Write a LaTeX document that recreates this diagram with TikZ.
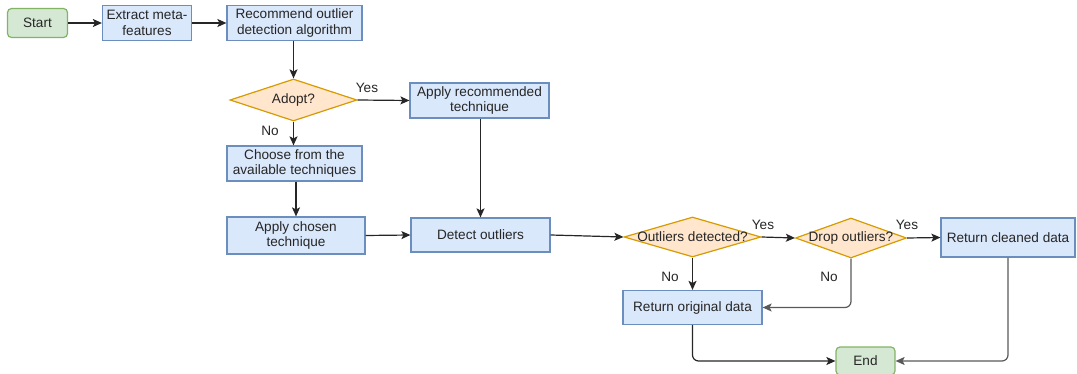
\documentclass[tikz,border=0pt]{standalone}
\usepackage{fontspec}
\setmainfont{Liberation Sans}
\usetikzlibrary{shapes.geometric,arrows.meta}
\definecolor{bfill}{HTML}{DAE8FC}
\definecolor{bdraw}{HTML}{6C8EBF}
\definecolor{gfill}{HTML}{D5E8D4}
\definecolor{gdraw}{HTML}{82B366}
\definecolor{ofill}{HTML}{FFE6CC}
\definecolor{odraw}{HTML}{D79B00}
\definecolor{txt}{HTML}{262626}
\tikzset{
  base/.style={inner sep=0pt, align=center, text=txt, font=\fontsize{13.6}{15.5}\selectfont, line width=1.2pt},
  proc/.style={base, rectangle, draw=bdraw, fill=bfill},
  term/.style={base, rectangle, rounded corners=4pt, draw=gdraw, fill=gfill},
  dec/.style={base, diamond, draw=odraw, fill=ofill},
  conn/.style={draw=black!85, line width=1.2pt, -{Stealth[length=9pt,width=8pt,inset=2pt]}, rounded corners=6pt},
  gconn/.style={conn, draw=black!65},
  lab/.style={text=txt, font=\fontsize{13.6}{15.5}\selectfont, inner sep=0pt}
}
\newcommand{\zw}[1]{\makebox[0pt]{#1}}
\begin{document}
\begin{tikzpicture}[x=1pt,y=-1pt]
\useasboundingbox (0,0) rectangle (1077,374);
\node[term, minimum width=60, minimum height=29] (start) at (37.5,23) {Start};
\node[proc, minimum width=89, minimum height=35] (extract) at (147,23) {Extract meta-\\features};
\node[proc, minimum width=135, minimum height=35] (recommend) at (294.5,23) {Recommend outlier\\detection algorithm};
\node[dec, minimum width=127, minimum height=42] (adopt) at (293.5,100) {\zw{Adopt?}};
\node[proc, minimum width=139, minimum height=35] (applyrec) at (479.5,100.5) {Apply recommended\\technique};
\node[proc, minimum width=135, minimum height=35] (choose) at (294.5,163.5) {Choose from the\\available techniques};
\node[proc, minimum width=138, minimum height=37] (applychosen) at (296,235.5) {Apply chosen\\technique};
\node[proc, minimum width=139, minimum height=34] (detect) at (480.5,235) {Detect outliers};
\node[dec, minimum width=137, minimum height=40] (outdet) at (692.5,237) {\zw{Outliers detected?}};
\node[dec, minimum width=111, minimum height=40] (drop) at (851,238) {\zw{Drop outliers?}};
\node[proc, minimum width=134, minimum height=39] (retclean) at (1008,237.5) {Return cleaned data};
\node[proc, minimum width=139, minimum height=34] (retorig) at (692.5,307.5) {Return original data};
\node[term, minimum width=59, minimum height=28] (end) at (865.5,361) {End};

\draw[conn] (start) -- (extract);
\draw[conn] (extract) -- (recommend);
\draw[conn] (adopt.north |- recommend.south) -- (adopt.north);
\draw[conn] (adopt.east) -- (applyrec.west);
\draw[conn] (adopt.south) -- (adopt.south |- choose.north);
\draw[conn] (applychosen.north |- choose.south) -- (applychosen.north);
\draw[conn] (detect.north |- applyrec.south) -- (detect.north);
\draw[conn] (applychosen.east) -- (detect.west);
\draw[conn] (detect.east) -- (outdet.west);
\draw[conn] (outdet.east) -- (drop.west);
\draw[conn] (outdet.south) -- (retorig.north);
\draw[conn] (drop.east) -- (retclean.west);
\draw[gconn] (drop.south) |- (retorig.east);
\draw[conn] (retorig.south) |- (end.west);
\draw[gconn] (retclean.south) |- (end.east);

\node[lab] (yes1) at (367,88) {Yes};
\node[lab] (no1) at (270,131) {No};
\node[lab] (yes2) at (763,225) {Yes};
\node[lab] (no2) at (670,277) {No};
\node[lab] (yes3) at (907,225) {Yes};
\node[lab] (no3) at (829,277) {No};
\end{tikzpicture}
\end{document}
